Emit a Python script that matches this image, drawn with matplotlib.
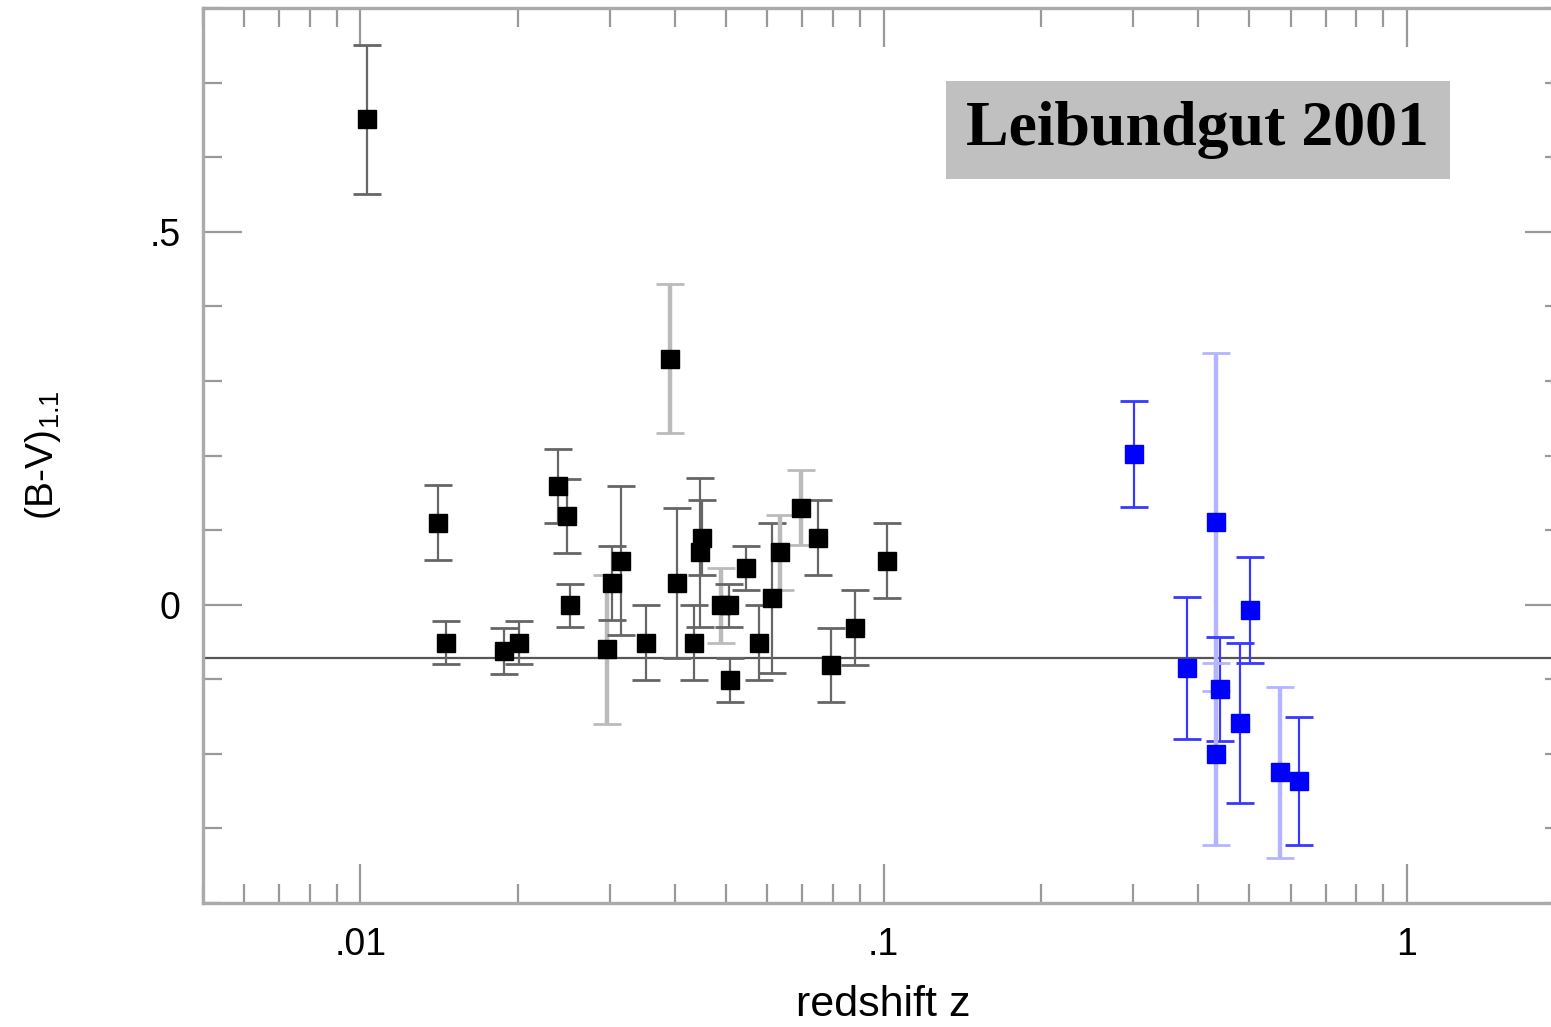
import matplotlib
matplotlib.use("Agg")
import matplotlib.pyplot as plt
import numpy as np
from matplotlib.ticker import FixedLocator, LogLocator, NullFormatter, FixedFormatter

plt.rcParams['font.family'] = ['Liberation Sans', 'DejaVu Sans']

# Nearby supernovae (black): redshift, colour, error, faint-bar flag
low_z = [0.01027, 0.01406, 0.0146, 0.01885, 0.02014, 0.02384, 0.0248, 0.02518,
         0.02963, 0.0303, 0.0315, 0.0352, 0.0390, 0.0403, 0.0435, 0.0445,
         0.0449, 0.0489, 0.0506, 0.0509, 0.0546, 0.0579, 0.0613, 0.0635,
         0.0696, 0.0751, 0.0792, 0.0883, 0.1016]
low_bv = [0.651, 0.110, -0.051, -0.062, -0.051, 0.159, 0.119, -0.001,
          -0.060, 0.029, 0.059, -0.051, 0.330, 0.029, -0.051, 0.070,
          0.090, -0.001, -0.001, -0.101, 0.049, -0.051, 0.009, 0.070,
          0.130, 0.090, -0.081, -0.031, 0.059]
low_err = [0.100, 0.050, 0.029, 0.031, 0.029, 0.050, 0.050, 0.029,
           0.100, 0.050, 0.100, 0.050, 0.100, 0.100, 0.050, 0.100,
           0.050, 0.050, 0.029, 0.029, 0.029, 0.050, 0.100, 0.050,
           0.050, 0.050, 0.050, 0.050, 0.050]
low_faint = [0, 0, 0, 0, 0, 0, 0, 0,
             1, 0, 0, 0, 1, 0, 0, 0,
             0, 1, 0, 0, 0, 0, 0, 1,
             1, 0, 0, 0, 0]

# Distant supernovae (blue)
high_z = [0.3006, 0.380, 0.4313, 0.4403, 0.4313, 0.5010, 0.4808, 0.5718, 0.6217]
high_bv = [0.202, -0.085, 0.111, -0.113, -0.2005, -0.007, -0.159, -0.225, -0.236]
high_err = [0.0715, 0.095, 0.227, 0.070, 0.122, 0.0715, 0.107, 0.115, 0.0856]
high_faint = [0, 0, 1, 0, 1, 0, 0, 1, 0]

mean_colour = -0.072

x_ticks = [0.01, 0.1, 1]
x_labels = ['.01', '.1', '1']
y_ticks = [0, 0.5]
y_labels = ['0', '.5']

W, H = 1551, 1027
fig = plt.figure(figsize=(W / 100, H / 100), dpi=100)
ax = fig.add_axes([203 / W, (H - 903) / H, 1361 / W, 895 / H])
ax.set_xscale('log')
ax.set_xlim(0.005, 2.0)
ax.set_ylim(-0.4, 0.8)

ax.axhline(mean_colour, color='#555555', lw=1.6, zorder=1)


def draw(zs, vs, es, faint, marker_col, bar_dark, bar_light):
    for z, v, e, f in zip(zs, vs, es, faint):
        col = bar_light if f else bar_dark
        lw = 3.2 if f else 1.6
        ax.errorbar([z], [v], yerr=[e], fmt='none', ecolor=col, elinewidth=lw,
                    capsize=10, capthick=2.0, zorder=2)
    ax.plot(zs, vs, 's', color=marker_col, ms=13, mec=marker_col, zorder=3)


draw(low_z, low_bv, low_err, low_faint, 'black', '#666666', '#bbbbbb')
draw(high_z, high_bv, high_err, high_faint, '#0000ff', '#3838ff', '#b4b4ff')

# axes frame and ticks
for s in ax.spines.values():
    s.set_color('#aaaaaa')
    s.set_linewidth(2.4)

ax.xaxis.set_major_locator(FixedLocator(x_ticks))
ax.xaxis.set_major_formatter(FixedFormatter(x_labels))
ax.xaxis.set_minor_locator(LogLocator(base=10, subs=np.arange(2, 10)))
ax.xaxis.set_minor_formatter(NullFormatter())
ax.yaxis.set_major_locator(FixedLocator(y_ticks))
ax.yaxis.set_major_formatter(FixedFormatter(y_labels))
ax.yaxis.set_minor_locator(FixedLocator(np.round(np.arange(-0.4, 0.81, 0.1), 2)))

ax.tick_params(which='both', direction='in', top=True, right=True,
               color='#999999', width=1.6, labelsize=27)
ax.tick_params(which='major', length=28)
ax.tick_params(which='minor', length=14)
ax.tick_params(axis='x', which='major', pad=17)
ax.tick_params(axis='y', which='major', pad=16)

ax.set_xlabel('redshift z', fontsize=31, labelpad=16)
ax.set_ylabel(r'(B-V)$_{\mathregular{1.1}}$', fontsize=28, labelpad=62)

ax.text(0.731, 0.8637, 'Leibundgut 2001', transform=ax.transAxes,
        fontfamily='Liberation Serif', fontweight='bold', fontsize=46,
        ha='center', va='center', color='black',
        bbox=dict(boxstyle='square,pad=0.32', fc='#c0c0c0', ec='none'))

fig.savefig('out.png', dpi=100)
